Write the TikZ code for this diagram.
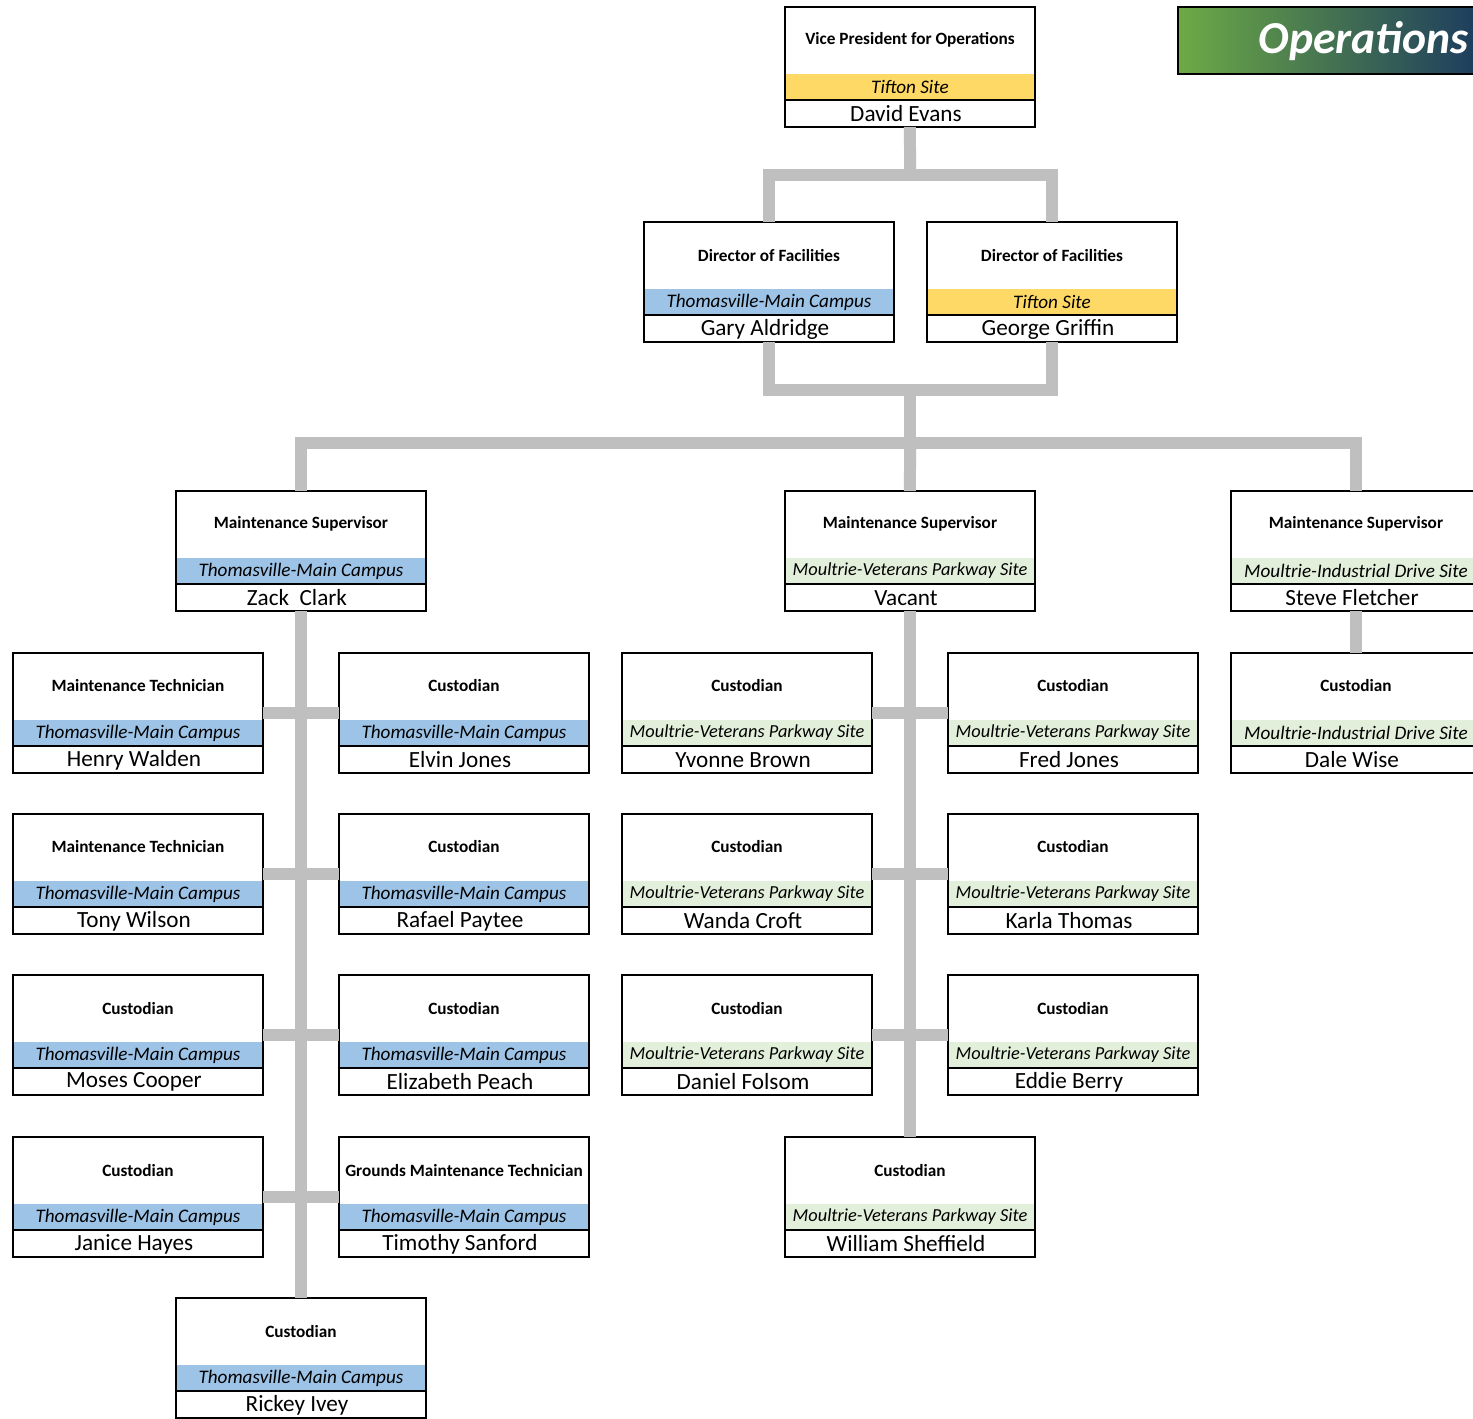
\documentclass[tikz,border=0pt]{standalone}
\usepackage{fontspec}
\setmainfont{Carlito}
\usetikzlibrary{calc}
\definecolor{tiftonband}{HTML}{FFD966}
\definecolor{thomasband}{HTML}{9DC3E6}
\definecolor{moultrieband}{HTML}{E2EFDA}
\definecolor{linkgray}{HTML}{BFBFBF}
\definecolor{headgreen}{HTML}{6DAA45}
\definecolor{headnavy}{HTML}{1D3D5E}
\tikzstyle{link}=[draw=linkgray, line width=0.24cm]
\tikzstyle{frame}=[line width=1.1pt]
\tikzstyle{roleframe}=[rectangle, minimum width=5cm, minimum height=2.4cm, inner sep=0pt, outer sep=0pt, anchor=north west]
\tikzstyle{titletext}=[font=\fontsize{9.8}{11}\selectfont\bfseries]
\tikzstyle{sitetext}=[font=\fontsize{10.9}{12}\selectfont\itshape]
\tikzstyle{nametext}=[font=\fontsize{13.2}{15}\selectfont]
\newcommand{\vetSite}{{\fontsize{10.45}{12}\selectfont Moultrie-Veterans Parkway Site}}
\newcommand{\roleBox}[6]{
	\node[roleframe] (#1) at #2 {};
	\fill[#3] ($(#1.north west)+(0,67)$) rectangle ($(#1.north east)+(0,93)$);
	\draw[frame] ($(#1.north west)+(0,93)$) -- ($(#1.north east)+(0,93)$);
	\draw[frame] (#1.north west) rectangle (#1.south east);
	\node[titletext] at ($(#1.north)+(0,33)$) {#4};
	\node[sitetext] at ($(#1.north)+(0,80)$) {#5};
	\node[nametext] at ($(#1.north)+(-4,107)$) {#6};
}
\begin{document}
\begin{tikzpicture}[x=0.02cm,y=-0.02cm]
	\useasboundingbox (0,0) rectangle (1473,1418);
	\clip (0,0) rectangle (1473,1418);
	\fill[white] (0,0) rectangle (1473,1418);
	\node[roleframe, left color=headgreen, right color=headnavy, minimum width=6cm, minimum height=1.34cm] (header) at (1178,7) {};
	\draw[frame] (header.north east) -- (header.north west) -- (header.south west) -- (header.south east);
	\node[anchor=east, text=white, font=\fontsize{26}{30}\selectfont\bfseries\itshape] (headtitle) at (1475,41) {Operations};
	\coordinate (jTop) at (910,175);
	\coordinate (jMid) at (910,390);
	\coordinate (jBus) at (910,443);
	\roleBox{vp}{(785,7)}{tiftonband}{Vice President for Operations}{Tifton Site}{David Evans}
	\roleBox{gary}{(644,222)}{thomasband}{Director of Facilities}{Thomasville-Main Campus}{Gary Aldridge}
	\roleBox{george}{(927,222)}{tiftonband}{Director of Facilities}{Tifton Site}{George Griffin}
	\roleBox{zack}{(176,491)}{thomasband}{Maintenance Supervisor}{Thomasville-Main Campus}{Zack\ \ Clark}
	\roleBox{vacant}{(785,491)}{moultrieband}{Maintenance Supervisor}{\vetSite}{Vacant}
	\roleBox{steve}{(1231,491)}{moultrieband}{Maintenance Supervisor}{Moultrie-Industrial Drive Site}{Steve Fletcher}
	\roleBox{henry}{(13,653)}{thomasband}{Maintenance Technician}{Thomasville-Main Campus}{Henry Walden}
	\roleBox{elvin}{(339,653)}{thomasband}{Custodian}{Thomasville-Main Campus}{Elvin Jones}
	\roleBox{yvonne}{(622,653)}{moultrieband}{Custodian}{\vetSite}{Yvonne Brown}
	\roleBox{fred}{(948,653)}{moultrieband}{Custodian}{\vetSite}{Fred Jones}
	\roleBox{dale}{(1231,653)}{moultrieband}{Custodian}{Moultrie-Industrial Drive Site}{Dale Wise}
	\roleBox{tony}{(13,814)}{thomasband}{Maintenance Technician}{Thomasville-Main Campus}{Tony Wilson}
	\roleBox{rafael}{(339,814)}{thomasband}{Custodian}{Thomasville-Main Campus}{Rafael Paytee}
	\roleBox{wanda}{(622,814)}{moultrieband}{Custodian}{\vetSite}{Wanda Croft}
	\roleBox{karla}{(948,814)}{moultrieband}{Custodian}{\vetSite}{Karla Thomas}
	\roleBox{moses}{(13,975)}{thomasband}{Custodian}{Thomasville-Main Campus}{Moses Cooper}
	\roleBox{elizabeth}{(339,975)}{thomasband}{Custodian}{Thomasville-Main Campus}{Elizabeth Peach}
	\roleBox{daniel}{(622,975)}{moultrieband}{Custodian}{\vetSite}{Daniel Folsom}
	\roleBox{eddie}{(948,975)}{moultrieband}{Custodian}{\vetSite}{Eddie Berry}
	\roleBox{janice}{(13,1137)}{thomasband}{Custodian}{Thomasville-Main Campus}{Janice Hayes}
	\roleBox{timothy}{(339,1137)}{thomasband}{Grounds Maintenance Technician}{Thomasville-Main Campus}{Timothy Sanford}
	\roleBox{william}{(785,1137)}{moultrieband}{Custodian}{\vetSite}{William Sheffield}
	\roleBox{rickey}{(176,1298)}{thomasband}{Custodian}{Thomasville-Main Campus}{Rickey Ivey}
	\draw[link] (vp.south) -- (jTop);
	\draw[link] (gary.north) |- (jTop) -| (george.north);
	\draw[link] (gary.south) |- (jMid) -| (george.south);
	\draw[link] (jMid) -- (jBus);
	\draw[link] (zack.north) |- (jBus) -| (steve.north);
	\draw[link] (jBus) -- (vacant.north);
	\draw[link] (zack.south) -- (rickey.north);
	\draw[link] (henry.east) -- (elvin.west);
	\draw[link] (tony.east) -- (rafael.west);
	\draw[link] (moses.east) -- (elizabeth.west);
	\draw[link] (janice.east) -- (timothy.west);
	\draw[link] (vacant.south) -- (william.north);
	\draw[link] (yvonne.east) -- (fred.west);
	\draw[link] (wanda.east) -- (karla.west);
	\draw[link] (daniel.east) -- (eddie.west);
	\draw[link] (steve.south) -- (dale.north);
\end{tikzpicture}
\end{document}
